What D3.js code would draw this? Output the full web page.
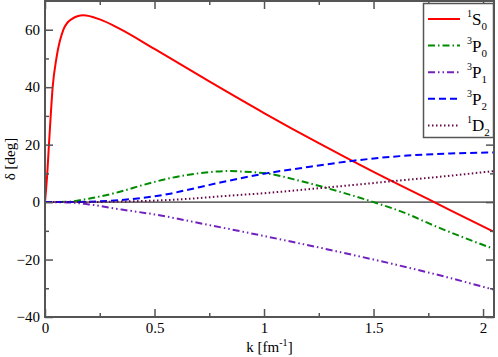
<!DOCTYPE html>
<html>
<head>
<meta charset="utf-8">
<script src="https://cdn.jsdelivr.net/npm/d3@7"></script>
<style>
  body { margin: 0; background: #fff; }
  svg { display: block; font-family: "Liberation Serif", "DejaVu Serif", serif; }
</style>
</head>
<body>
<svg id="chart" width="498" height="357"></svg>
<script>
//---------------------------------data-----------------------------------------

// phase shifts in degrees, as [k, delta] pairs
const s0_1 = [[0,0],[0.005,4.5],[0.01,9.5],[0.018,20],[0.026,30],[0.035,40],[0.052,50],
  [0.084,60],[0.12,63.6],[0.175,65],[0.25,63.6],[0.342,60.3],[0.5,53.3],[0.75,42],
  [1.0,31],[1.25,20.5],[1.5,10.5],[1.75,1.0],[2.05,-10.4]];
const p0_3 = [[0,0],[0.1,0.1],[0.2,1.2],[0.342,3.6],[0.45,6],[0.563,8.2],[0.7,10],
  [0.83,10.8],[0.95,10.4],[1.01,10],[1.164,7.4],[1.21,6.5],[1.35,3.5],[1.5,0],
  [1.65,-4],[1.77,-8],[1.9,-12],[2.05,-16.3]];
const p1_3 = [[0,0],[0.1,-0.1],[0.2,-0.8],[0.35,-2.6],[0.5,-4.3],[0.75,-8.0],
  [1.0,-11.8],[1.25,-15.8],[1.5,-20.0],[1.75,-24.5],[2.05,-30.5]];
const p2_3 = [[0,0],[0.15,0.05],[0.25,0.3],[0.342,0.7],[0.45,1.5],[0.563,2.8],
  [0.647,4.2],[0.8,6.8],[1.01,10],[1.21,12.3],[1.408,14.4],[1.62,16],[1.85,16.9],[2.05,17.3]];
const d2_1 = [[0,0],[0.2,0.02],[0.342,0.2],[0.495,0.5],[0.65,1.1],[0.8,2.0],[1.0,3.1],
  [1.164,4.2],[1.4,5.9],[1.59,7.3],[1.8,8.8],[2.05,10.8]];

const xTicks = [0, 0.5, 1, 1.5, 2];
const xMinor = [0.25, 0.75, 1.25, 1.75];
const yTicks = [-40, -20, 0, 20, 40, 60];
const yMinor = [-30, -10, 10, 30, 50];

const series = [
  {sup: "1", letter: "S", sub: "0", data: s0_1, color: "#ff0000", dash: null},
  {sup: "3", letter: "P", sub: "0", data: p0_3, color: "#008b00", dash: "7,3,1.5,3"},
  {sup: "3", letter: "P", sub: "1", data: p1_3, color: "#7221bc", dash: "7,3,1.5,3,1.5,3"},
  {sup: "3", letter: "P", sub: "2", data: p2_3, color: "#0000ff", dash: "7,4"},
  {sup: "1", letter: "D", sub: "2", data: d2_1, color: "#670748", dash: "1.5,2.5"}
];

//--------------------------------layout----------------------------------------

const plotLeft = 45, plotRight = 494, plotTop = 1, plotBottom = 317;
const frameColor = "#555";
const serif = "Liberation Serif, DejaVu Serif, serif";

const svg = d3.select("#chart");

const x = d3.scaleLinear().domain([0, 2.05]).range([plotLeft, plotRight]);
const y = d3.scaleLinear().domain([-40, 70]).range([plotBottom, plotTop]);

//zero line
svg.append("line")
  .attr("x1", plotLeft).attr("x2", plotRight)
  .attr("y1", y(0)).attr("y2", y(0))
  .attr("stroke", "#000").attr("stroke-width", 1);

//curves
const line = d3.line()
  .x(d => x(d[0]))
  .y(d => y(d[1]))
  .curve(d3.curveMonotoneX);

series.forEach(s => {
  svg.append("path")
    .datum(s.data)
    .attr("d", line)
    .attr("fill", "none")
    .attr("stroke", s.color)
    .attr("stroke-width", 2)
    .attr("stroke-dasharray", s.dash);
});

//axes : major ticks (inward) with labels on bottom/left, mirrored ticks on top/right
function styleAxis(g) {
  g.attr("font-family", serif).attr("font-size", 15);
  g.select(".domain").remove();
  g.selectAll(".tick line").attr("stroke", frameColor).attr("stroke-width", 1.5);
  g.selectAll(".tick text").attr("fill", "#000");
}

svg.append("g").attr("transform", `translate(0,${plotBottom})`)
  .call(d3.axisBottom(x).tickValues(xTicks).tickSize(-8).tickPadding(5).tickFormat(d3.format("")))
  .call(styleAxis);
svg.append("g").attr("transform", `translate(0,${plotBottom})`)
  .call(d3.axisBottom(x).tickValues(xMinor).tickSize(-4).tickFormat(""))
  .call(styleAxis);
svg.append("g").attr("transform", `translate(0,${plotTop})`)
  .call(d3.axisTop(x).tickValues(xTicks).tickSize(-8).tickFormat(""))
  .call(styleAxis);
svg.append("g").attr("transform", `translate(0,${plotTop})`)
  .call(d3.axisTop(x).tickValues(xMinor).tickSize(-4).tickFormat(""))
  .call(styleAxis);

svg.append("g").attr("transform", `translate(${plotLeft},0)`)
  .call(d3.axisLeft(y).tickValues(yTicks).tickSize(-8).tickPadding(5).tickFormat(d3.format("")))
  .call(styleAxis);
svg.append("g").attr("transform", `translate(${plotLeft},0)`)
  .call(d3.axisLeft(y).tickValues(yMinor).tickSize(-4).tickFormat(""))
  .call(styleAxis);
svg.append("g").attr("transform", `translate(${plotRight},0)`)
  .call(d3.axisRight(y).tickValues(yTicks).tickSize(-8).tickFormat(""))
  .call(styleAxis);
svg.append("g").attr("transform", `translate(${plotRight},0)`)
  .call(d3.axisRight(y).tickValues(yMinor).tickSize(-4).tickFormat(""))
  .call(styleAxis);

//frame
svg.append("rect")
  .attr("x", plotLeft).attr("y", plotTop)
  .attr("width", plotRight - plotLeft).attr("height", plotBottom - plotTop)
  .attr("fill", "none")
  .attr("stroke", frameColor)
  .attr("stroke-width", 2);

//axis titles
const xt = svg.append("text")
  .attr("x", (plotLeft + plotRight) / 2).attr("y", 352)
  .attr("text-anchor", "middle")
  .attr("font-family", serif)
  .attr("font-size", 15);
xt.append("tspan").text("k [fm");
xt.append("tspan").attr("font-size", 10).attr("dy", -6).text("-1");
xt.append("tspan").attr("dy", 6).text("]");

svg.append("text")
  .attr("transform", `translate(15,${(plotTop + plotBottom) / 2}) rotate(-90)`)
  .attr("text-anchor", "middle")
  .attr("font-family", serif)
  .attr("font-size", 15)
  .text("δ [deg]");

//legend
const legend = svg.append("g");
legend.append("rect")
  .attr("x", 423.5).attr("y", 3.5)
  .attr("width", 70).attr("height", 134)
  .attr("fill", "#fff")
  .attr("stroke", frameColor)
  .attr("stroke-width", 1.5);

series.forEach((s, i) => {
  const ly = 19 + i * 26.6;
  legend.append("line")
    .attr("x1", 428).attr("x2", 460)
    .attr("y1", ly).attr("y2", ly)
    .attr("stroke", s.color)
    .attr("stroke-width", 2)
    .attr("stroke-dasharray", s.dash);
  const t = legend.append("text")
    .attr("x", 467).attr("y", ly + 6)
    .attr("font-family", serif)
    .attr("font-size", 17);
  t.append("tspan").attr("font-size", 10).attr("dy", -8).text(s.sup);
  t.append("tspan").attr("dy", 8).text(s.letter);
  t.append("tspan").attr("font-size", 11).attr("dy", 5).text(s.sub);
});
</script>
</body>
</html>
